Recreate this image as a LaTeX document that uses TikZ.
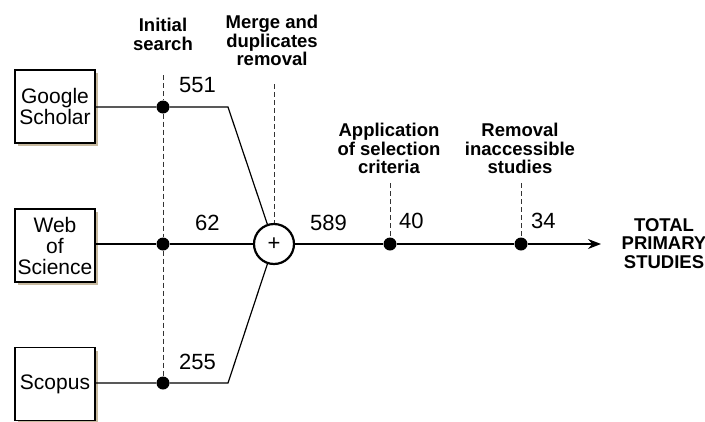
\documentclass[tikz,border=0pt]{standalone}
\usepackage{fontspec}
\setmainfont{Liberation Sans}
\usetikzlibrary{arrows.meta,shadows}
\definecolor{shad}{RGB}{200,186,160}
\begin{document}
\begin{tikzpicture}[x=1pt,y=-1pt,
  src/.style={draw,line width=1.2pt,fill=white,minimum width=80pt,minimum height=73pt,inner sep=0pt,align=center,
    font=\fontsize{21}{21}\selectfont,
    drop shadow={shadow xshift=3pt,shadow yshift=-3pt,fill=shad,opacity=1}},
  dot/.style={circle,fill=black,inner sep=0pt,minimum size=13pt},
  flow/.style={line width=1.2pt},
  guide/.style={dash pattern=on 5pt off 3pt,line width=0.9pt,draw=black!80},
  stage/.style={font=\fontsize{18.5}{18.5}\selectfont\bfseries,align=center,inner sep=0pt,anchor=north},
  num/.style={font=\fontsize{22}{22}\selectfont,inner sep=0pt,anchor=north west}
]
\useasboundingbox[fill=white] (0,0) rectangle (705,421);

% source boxes
\node[src] (gs) at (55,106.5) {Google\\Scholar};
\node[src] (wos) at (55,245.5) {Web\\of\\Science};
\node[src] (sco) at (55,384) {Scopus};

% dots
\node[dot] (d1) at (163,107) {};
\node[dot] (d2) at (163,244) {};
\node[dot] (d3) at (163,383) {};
\node[dot] (d4) at (390,244) {};
\node[dot] (d5) at (521,244) {};

% merge
\node[circle,draw,line width=2.2pt,minimum size=40pt,inner sep=0pt,fill=white,font=\fontsize{22}{22}\selectfont] (plus) at (274,244) {+};

% helper coordinates
\coordinate (b1) at (228,107);
\coordinate (b3) at (228,383);
\coordinate (g1) at (163,75);
\coordinate (g2) at (274,84);
\coordinate (g4) at (390,183);
\coordinate (g5) at (521,183);
\coordinate (tip) at (601,244);

% dashed guides
\draw[guide] (g1) -- (d1) -- (d2) -- (d3);
\draw[guide] (g2) -- (plus);
\draw[guide] (g4) -- (d4);
\draw[guide] (g5) -- (d5);

% flows
\draw[flow] (gs.east |- d1) -- (d1) -- (b1) -- (plus);
\draw[flow] (wos.east |- d2) -- (d2) -- (plus);
\draw[flow] (sco.east |- d3) -- (d3) -- (b3) -- (plus);
\draw[flow] (plus) -- (d4) -- (d5);
\draw[flow,-{Stealth[length=13pt,width=10pt]}] (d5) -- (tip);

% stage labels
\node[stage] (l1) at (163,18) {Initial\\search};
\node[stage] (l2) at (272,15) {Merge and\\duplicates\\removal};
\node[stage] (l3) at (389,123) {Application\\of selection\\criteria};
\node[stage] (l4) at (520,123) {Removal\\inaccessible\\studies};
\node[stage] (l5) at (664,218) {TOTAL\\PRIMARY\\STUDIES};

% numbers
\node[num] (n1) at (179,77) {551};
\node[num] (n2) at (195,215) {62};
\node[num] (n3) at (310,215) {589};
\node[num] (n4) at (179,354) {255};
\node[num] (n5) at (399,213) {40};
\node[num] (n6) at (531,213) {34};
\end{tikzpicture}
\end{document}
